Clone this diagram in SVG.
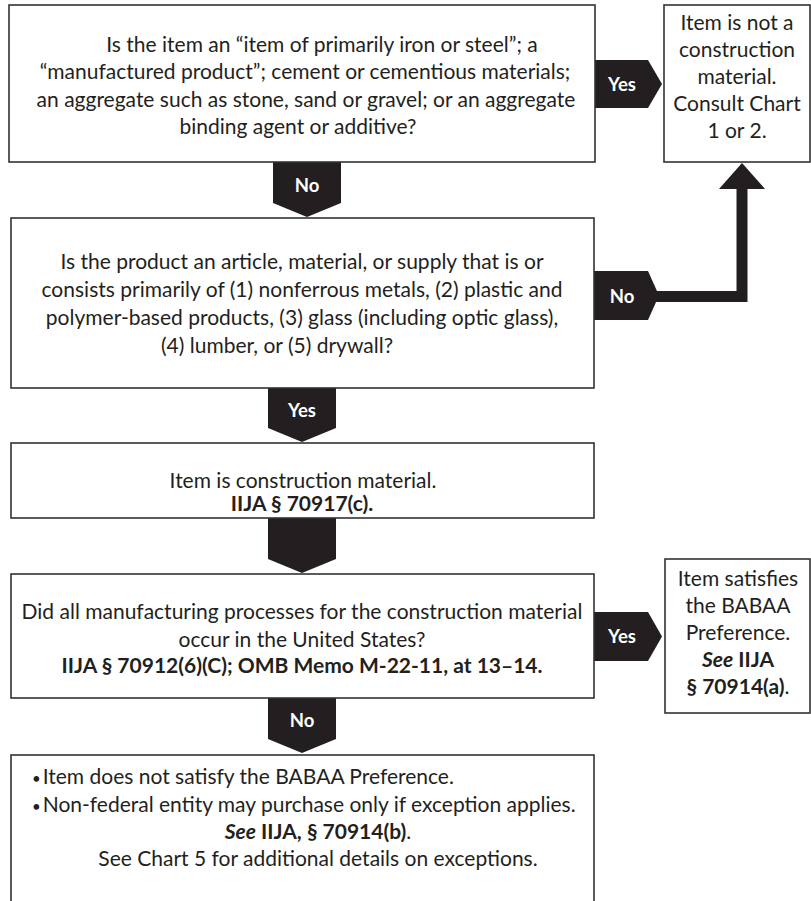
<svg xmlns="http://www.w3.org/2000/svg" width="811" height="901" viewBox="0 0 811 901">
  <style>
    .box { fill: #ffffff; stroke: #333333; stroke-width: 1.6; }
    .tag { fill: #231f20; }
    .t { font-family: Lato, "Liberation Sans", sans-serif; font-size: 21px; fill: #231f20; }
    .c { text-anchor: middle; }
    .b { font-weight: bold; }
    .bi { font-weight: bold; font-style: italic; }
    .lbl { font-family: Lato, "Liberation Sans", sans-serif; font-size: 18.5px; font-weight: bold; fill: #ffffff; text-anchor: middle; }
    .elbow { fill: none; stroke: #231f20; stroke-width: 11; }
  </style>

  <rect width="811" height="901" fill="#ffffff"/>

  <!-- connectors: labelled arrow tags and the elbow back to the first outcome -->
  <g id="connectors">
    <g id="c-q1-no">
      <path class="tag" d="M273,162 H341 V203 L307,217 L273,203 Z"/>
      <text class="lbl" x="307" y="192">No</text>
    </g>
    <g id="c-q1-yes">
      <path class="tag" d="M594,60 H648 L662,84 L648,108 H594 Z"/>
      <text class="lbl" x="622" y="91">Yes</text>
    </g>
    <g id="c-q2-no">
      <path class="tag" d="M594,271 H648 L659,295.5 L648,320 H594 Z"/>
      <polyline class="elbow" points="655,296.5 742,296.5 742,186"/>
      <polygon class="tag" points="719,189 765,189 742,163"/>
      <text class="lbl" x="622" y="303">No</text>
    </g>
    <g id="c-q2-yes">
      <path class="tag" d="M268,388 H336 V428 L302,442 L268,428 Z"/>
      <text class="lbl" x="302" y="417">Yes</text>
    </g>
    <g id="c-material">
      <path class="tag" d="M268,518 H336 V559 L302,573 L268,559 Z"/>
    </g>
    <g id="c-q3-yes">
      <path class="tag" d="M594,612 H648 L662,636.5 L648,661 H594 Z"/>
      <text class="lbl" x="622" y="643">Yes</text>
    </g>
    <g id="c-q3-no">
      <path class="tag" d="M268,698 H336 V739 L302,753 L268,739 Z"/>
      <text class="lbl" x="302" y="727">No</text>
    </g>
  </g>

  <!-- question 1 -->
  <g id="q1">
    <rect class="box" x="9" y="5" width="586" height="157"/>
    <text class="t c" x="322" y="52">Is the item an “item of primarily iron or steel”; a</text>
    <text class="t c" x="305" y="79">“manufactured product”; cement or cementious materials;</text>
    <text class="t c" x="306" y="107">an aggregate such as stone, sand or gravel; or an aggregate</text>
    <text class="t c" x="298" y="134">binding agent or additive?</text>
  </g>

  <!-- outcome: not a construction material -->
  <g id="not-material">
    <rect class="box" x="664" y="5" width="146" height="157"/>
    <text class="t c" x="737" y="30">Item is not a</text>
    <text class="t c" x="737" y="57">construction</text>
    <text class="t c" x="737" y="84">material.</text>
    <text class="t c" x="737" y="111">Consult Chart</text>
    <text class="t c" x="737" y="138">1 or 2.</text>
  </g>

  <!-- question 2 -->
  <g id="q2">
    <rect class="box" x="11" y="218" width="583" height="170"/>
    <text class="t c" x="302" y="269">Is the product an article, material, or supply that is or</text>
    <text class="t c" x="302" y="297">consists primarily of (1) nonferrous metals, (2) plastic and</text>
    <text class="t c" x="302" y="325">polymer-based products, (3) glass (including optic glass),</text>
    <text class="t c" x="277" y="353">(4) lumber, or (5) drywall?</text>
  </g>

  <!-- construction material -->
  <g id="is-material">
    <rect class="box" x="11" y="443" width="583" height="75"/>
    <text class="t c" x="303" y="488">Item is construction material.</text>
    <text class="t c b" x="302" y="511">IIJA § 70917(c).</text>
  </g>

  <!-- question 3 -->
  <g id="q3">
    <rect class="box" x="11" y="574" width="583" height="124"/>
    <text class="t c" x="302" y="619">Did all manufacturing processes for the construction material</text>
    <text class="t c" x="302" y="647">occur in the United States?</text>
    <text class="t c b" x="302" y="673">IIJA § 70912(6)(C); OMB Memo M-22-11, at 13–14.</text>
  </g>

  <!-- outcome: satisfies preference -->
  <g id="satisfies">
    <rect class="box" x="665" y="559" width="145" height="154"/>
    <text class="t c" x="738" y="586">Item satisfies</text>
    <text class="t c" x="738" y="613">the BABAA</text>
    <text class="t c" x="738" y="640">Preference.</text>
    <text class="t c" x="738" y="667"><tspan class="bi">See</tspan><tspan class="b"> IIJA</tspan></text>
    <text class="t c" x="738" y="694"><tspan class="b">§ 70914(a)</tspan>.</text>
  </g>

  <!-- outcome: does not satisfy preference -->
  <g id="not-satisfies">
    <rect class="box" x="11" y="755" width="583" height="160"/>
    <text class="t" x="32" y="784"><tspan font-size="15">•</tspan><tspan dx="2">Item does not satisfy the BABAA Preference.</tspan></text>
    <text class="t" x="32" y="812"><tspan font-size="15">•</tspan><tspan dx="2">Non-federal entity may purchase only if exception applies.</tspan></text>
    <text class="t c" x="318" y="839"><tspan class="bi">See</tspan><tspan class="b"> IIJA, § 70914(b)</tspan>.</text>
    <text class="t c" x="318" y="866">See Chart 5 for additional details on exceptions.</text>
  </g>
</svg>
